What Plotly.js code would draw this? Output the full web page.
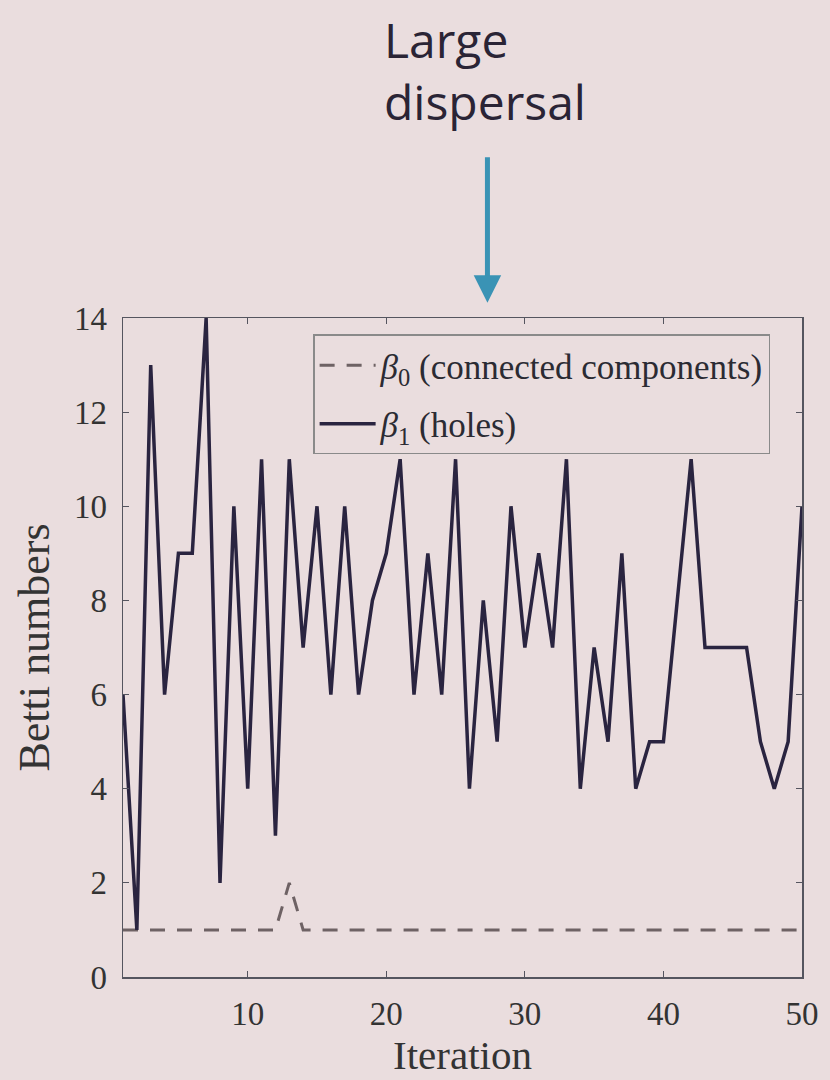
<!DOCTYPE html>
<html>
<head>
<meta charset="utf-8">
<script src="https://cdn.plot.ly/plotly-3.0.1.min.js"></script>
<style>
html,body{margin:0;padding:0;background:#eaddde;}
#chart{width:830px;height:1080px;}
</style>
</head>
<body>
<div id="chart"></div>
<script>
// Data
const iterations = [];
for (let i = 1; i <= 50; i++) iterations.push(i);

const beta0 = [1,1,1,1,1,1,1,1,1,1, 1,1,2,1,1,1,1,1,1,1, 1,1,1,1,1,1,1,1,1,1,
               1,1,1,1,1,1,1,1,1,1, 1,1,1,1,1,1,1,1,1,1];

const beta1 = [6,1,13,6,9,9,14,2,10,4, 11,3,11,7,10,6,10,6,8,9, 11,6,9,6,11,4,8,5,10,7,
               9,7,11,4,7,5,9,4,5,5, 8,11,7,7,7,7,5,4,5,10];

const xTicks = [10,20,30,40,50];
const yTicks = [0,2,4,6,8,10,12,14];

const seriesNames = ['<i>β</i><sub>0</sub> (connected components)', '<i>β</i><sub>1</sub> (holes)'];
const annotationText = 'Large<br>dispersal';
const arrowX = 27.3;

const bg = '#eaddde';
const serif = 'Liberation Serif, Times New Roman, serif';

const traces = [
  {
    x: iterations, y: beta0, name: seriesNames[0], mode: 'lines', type: 'scatter',
    legendgroup: 'g0',
    line: {color: '#6e6264', width: 3, dash: '15px,12px'}
  },
  {
    x: iterations, y: beta1, name: seriesNames[1], mode: 'lines', type: 'scatter',
    legendgroup: 'g1',
    line: {color: '#2a2440', width: 3.5}
  }
];

const layout = {
  width: 830, height: 1080,
  paper_bgcolor: bg, plot_bgcolor: bg,
  margin: {l: 123, r: 28, t: 318, b: 103},
  showlegend: true,
  legend: {
    x: 0.28, y: 0.975, xanchor: 'left', yanchor: 'top',
    bgcolor: bg, bordercolor: '#8a8a8a', borderwidth: 1.5,
    font: {family: serif, size: 35, color: '#2b2b33'},
    traceorder: 'grouped', tracegroupgap: 10, itemwidth: 56
  },
  xaxis: {
    range: [1, 50], tickvals: xTicks, ticktext: xTicks.map(String),
    showgrid: false, zeroline: false,
    showline: true, linecolor: '#55555f', linewidth: 1.5, mirror: 'ticks',
    ticks: 'inside', ticklen: 6, tickcolor: '#55555f',
    tickfont: {family: serif, size: 33, color: '#333'},
    ticklabelstandoff: 7,
    title: {text: 'Iteration', font: {family: serif, size: 41, color: '#333'}, standoff: 0}
  },
  yaxis: {
    range: [0, 14], tickvals: yTicks, ticktext: yTicks.map(String),
    showgrid: false, zeroline: false,
    showline: true, linecolor: '#55555f', linewidth: 1.5, mirror: 'ticks',
    ticks: 'inside', ticklen: 6, tickcolor: '#55555f',
    tickfont: {family: serif, size: 33, color: '#333'},
    ticklabelstandoff: 8,
    title: {text: 'Betti numbers', font: {family: serif, size: 44, color: '#333'}, standoff: 10}
  },
  annotations: [
    {
      xref: 'x', yref: 'paper', x: arrowX, y: 1.023,
      ax: 0, ay: -147, axref: 'pixel', ayref: 'pixel',
      text: '', showarrow: true, arrowhead: 2, arrowsize: 1.1, arrowwidth: 5,
      arrowcolor: '#3a93b5', standoff: 0
    },
    {
      xref: 'x', yref: 'paper', x: 27.1, y: 1.375, xanchor: 'center', yanchor: 'middle',
      text: annotationText, showarrow: false, align: 'left',
      font: {family: 'Open Sans, Noto Sans, sans-serif', size: 48, color: '#2a2435'}
    }
  ]
};

Plotly.newPlot('chart', traces, layout, {displayModeBar: false, staticPlot: true});
</script>
</body>
</html>
